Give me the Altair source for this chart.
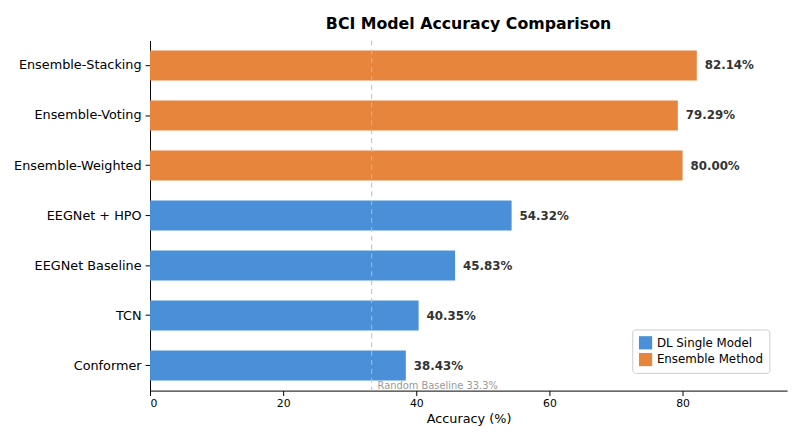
import altair as alt
import pandas as pd

models = ["Ensemble-Stacking", "Ensemble-Voting", "Ensemble-Weighted",
          "EEGNet + HPO", "EEGNet Baseline", "TCN", "Conformer"]
accuracy = [82.14, 79.29, 80.00, 54.32, 45.83, 40.35, 38.43]
groups = ["Ensemble Method"] * 3 + ["DL Single Model"] * 4
baseline = 33.3

df = pd.DataFrame({"model": models, "acc": accuracy, "group": groups})
df["label"] = df["acc"].map(lambda v: f"{v:.2f}%")

FONT = "DejaVu Sans"
x_scale = alt.Scale(domain=[0, 95.7], nice=False)
y_enc = alt.Y("model:N", sort=models, title=None,
              scale=alt.Scale(paddingInner=0.4, paddingOuter=0.2),
              axis=alt.Axis(labelFontSize=13, labelColor="black", ticks=True,
                            tickColor="black", domainColor="black", labelPadding=4))

base = alt.Chart(df)
bars = base.mark_bar().encode(
    x=alt.X("acc:Q", scale=x_scale, title="Accuracy (%)",
            axis=alt.Axis(values=[0, 20, 40, 60, 80], grid=False, labelFontSize=11,
                          titleFontSize=13, titleFontWeight="normal", labelColor="black",
                          titleColor="black", domainColor="black", tickColor="black")),
    y=y_enc,
    color=alt.Color("group:N", title=None,
                    scale=alt.Scale(domain=["DL Single Model", "Ensemble Method"],
                                    range=["#4a90d9", "#e8853d"]),
                    legend=alt.Legend(orient="bottom-right", labelFontSize=12,
                                      symbolType="square", symbolSize=180,
                                      strokeColor="#cccccc", padding=6,
                                      fillColor="white", cornerRadius=3)),
)
text = base.mark_text(align="left", dx=8, fontWeight="bold", fontSize=12,
                      color="#333333").encode(
    x=alt.X("acc:Q", scale=x_scale), y=alt.Y("model:N", sort=models), text="label:N")

bdf = pd.DataFrame({"x": [baseline], "t": [f"Random Baseline {baseline}%"]})
rule = alt.Chart(bdf).mark_rule(strokeDash=[5, 4], color="#bbbbbb").encode(
    x=alt.X("x:Q", scale=x_scale))
btxt = alt.Chart(bdf).mark_text(align="left", dx=6, fontSize=10, color="#999999",
                                baseline="bottom").encode(
    x=alt.X("x:Q", scale=x_scale), y=alt.value(355), text="t:N")

chart = (alt.layer(bars, rule, btxt, text)
         .properties(width=646, height=355,
                     title=alt.TitleParams("BCI Model Accuracy Comparison", fontSize=16,
                                           fontWeight="bold", anchor="middle", offset=8))
         .configure(font=FONT)
         .configure_view(stroke=None)
         .configure_axisX(domain=True)
         .configure_axisY(domain=True))

chart.save("out.html", embed_options={"renderer": "svg", "actions": False})
